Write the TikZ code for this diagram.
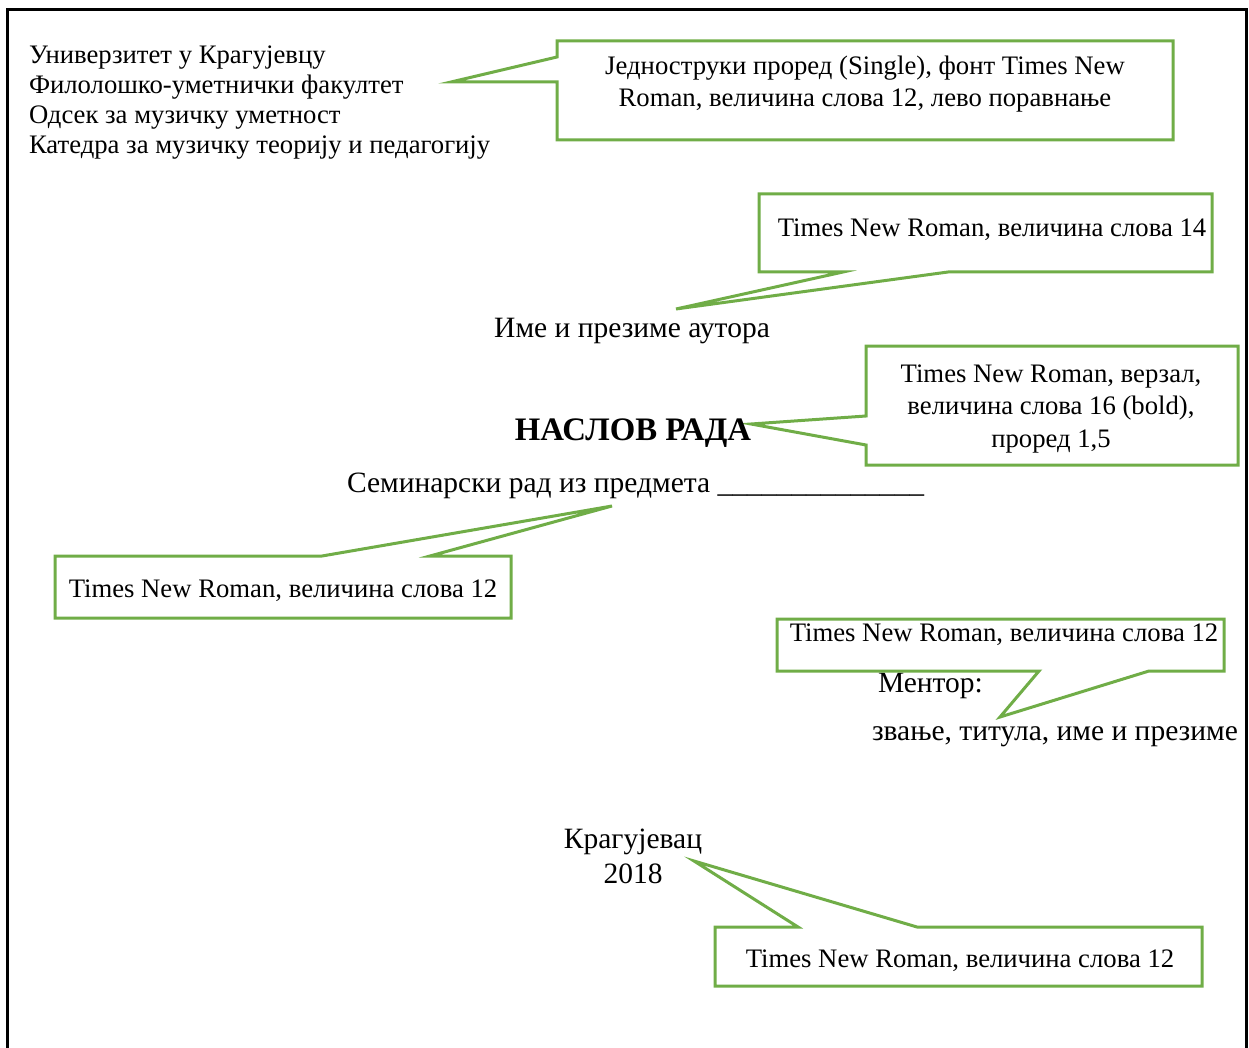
\documentclass[tikz,border=0pt]{standalone}
\usepackage{fontspec}
\setmainfont{Liberation Serif}
\definecolor{callgreen}{HTML}{70AD47}
\newcommand{\fsz}[1]{\fontsize{#1}{#1}\selectfont}
\begin{document}
\begin{tikzpicture}[x=1pt,y=-1pt,
  callout/.style={draw=callgreen,line width=3pt,line join=miter,fill=white},
  txt/.style={inner sep=0pt,outer sep=0pt,font=\fsz{26.7}},
  big/.style={font=\fsz{29.5}},
  frame/.style={draw=black,line width=3pt}]
\useasboundingbox (0,0) rectangle (1249,1048);
% page frame
\draw[frame] (7,1050) -- (7,10) -- (1246,10) -- (1246,1050);

% header
\node[txt,anchor=base west] (h1) at (29,64) {Универзитет у Крагујевцу};
\node[txt,anchor=base west] (h2) at (29,94) {Филолошко-уметнички факултет};
\node[txt,anchor=base west] (h3) at (29,124) {Одсек за музичку уметност};
\node[txt,anchor=base west] (h4) at (29,154) {Катедра за музичку теорију и педагогију};

% callout 1
\coordinate (t1) at (451,82);
\draw[callout] (557,41) -- (1173,41) -- (1173,140) -- (557,140) -- (557,82) -- (t1) -- (557,57) -- cycle;
\node[txt,anchor=base] (c1a) at (865,75) {Једноструки проред (Single), фонт Times New};
\node[txt,anchor=base] (c1b) at (865,107) {Roman, величина слова 12, лево поравнање};

% callout 2
\coordinate (t2) at (676,309);
\draw[callout] (759,194) -- (1212,194) -- (1212,272) -- (948,272) -- (t2) -- (843,272) -- (759,272) -- cycle;
\node[txt,anchor=base] (c2) at (992,237) {Times New Roman, величина слова 14};

% author
\node[txt,big,anchor=base] (author) at (632,337) {Име и презиме аутора};

% callout 3
\coordinate (t3) at (751,424);
\draw[callout] (866,346) -- (1238,346) -- (1238,465) -- (866,465) -- (866,445) -- (t3) -- (866,416) -- cycle;
\node[txt,anchor=base] (c3a) at (1051,382) {Times New Roman, верзал,};
\node[txt,anchor=base] (c3b) at (1051,414) {величина слова 16 (bold),};
\node[txt,anchor=base] (c3c) at (1051,447) {проред 1,5};

% title
\node[txt,anchor=base,font=\fsz{32.8}\bfseries] (title) at (633,440) {НАСЛОВ РАДА};

% seminar line
\node[txt,big,anchor=base west] (sem) at (347,492) {Семинарски рад из предмета \_\_\_\_\_\_\_\_\_\_\_\_\_\_};

% callout 4
\coordinate (t4) at (612,506);
\draw[callout] (55,556) -- (322,556) -- (t4) -- (430,556) -- (511,556) -- (511,618) -- (55,618) -- cycle;
\node[txt,anchor=base] (c4) at (283,597) {Times New Roman, величина слова 12};

% mentor
\node[txt,big,anchor=base west] (ment) at (878,692) {Ментор:};
\node[txt,big,anchor=base west] (mentn) at (872,740) {звање, титула, име и презиме};

% callout 5
\coordinate (t5) at (1000,717);
\draw[callout] (777,619) -- (1224,619) -- (1224,671) -- (1149,671) -- (t5) -- (1039,671) -- (777,671) -- cycle;
\node[txt,anchor=base] (c5) at (1004,641) {Times New Roman, величина слова 12};

% place and year
\node[txt,big,anchor=base] (place) at (633,848) {Крагујевац};
\node[txt,big,anchor=base] (year) at (633,883) {2018};

% callout 6
\coordinate (t6) at (694,861);
\draw[callout] (715,927) -- (798,927) -- (t6) -- (917,927) -- (1202,927) -- (1202,986) -- (715,986) -- cycle;
\node[txt,anchor=base] (c6) at (960,967) {Times New Roman, величина слова 12};
\end{tikzpicture}
\end{document}
